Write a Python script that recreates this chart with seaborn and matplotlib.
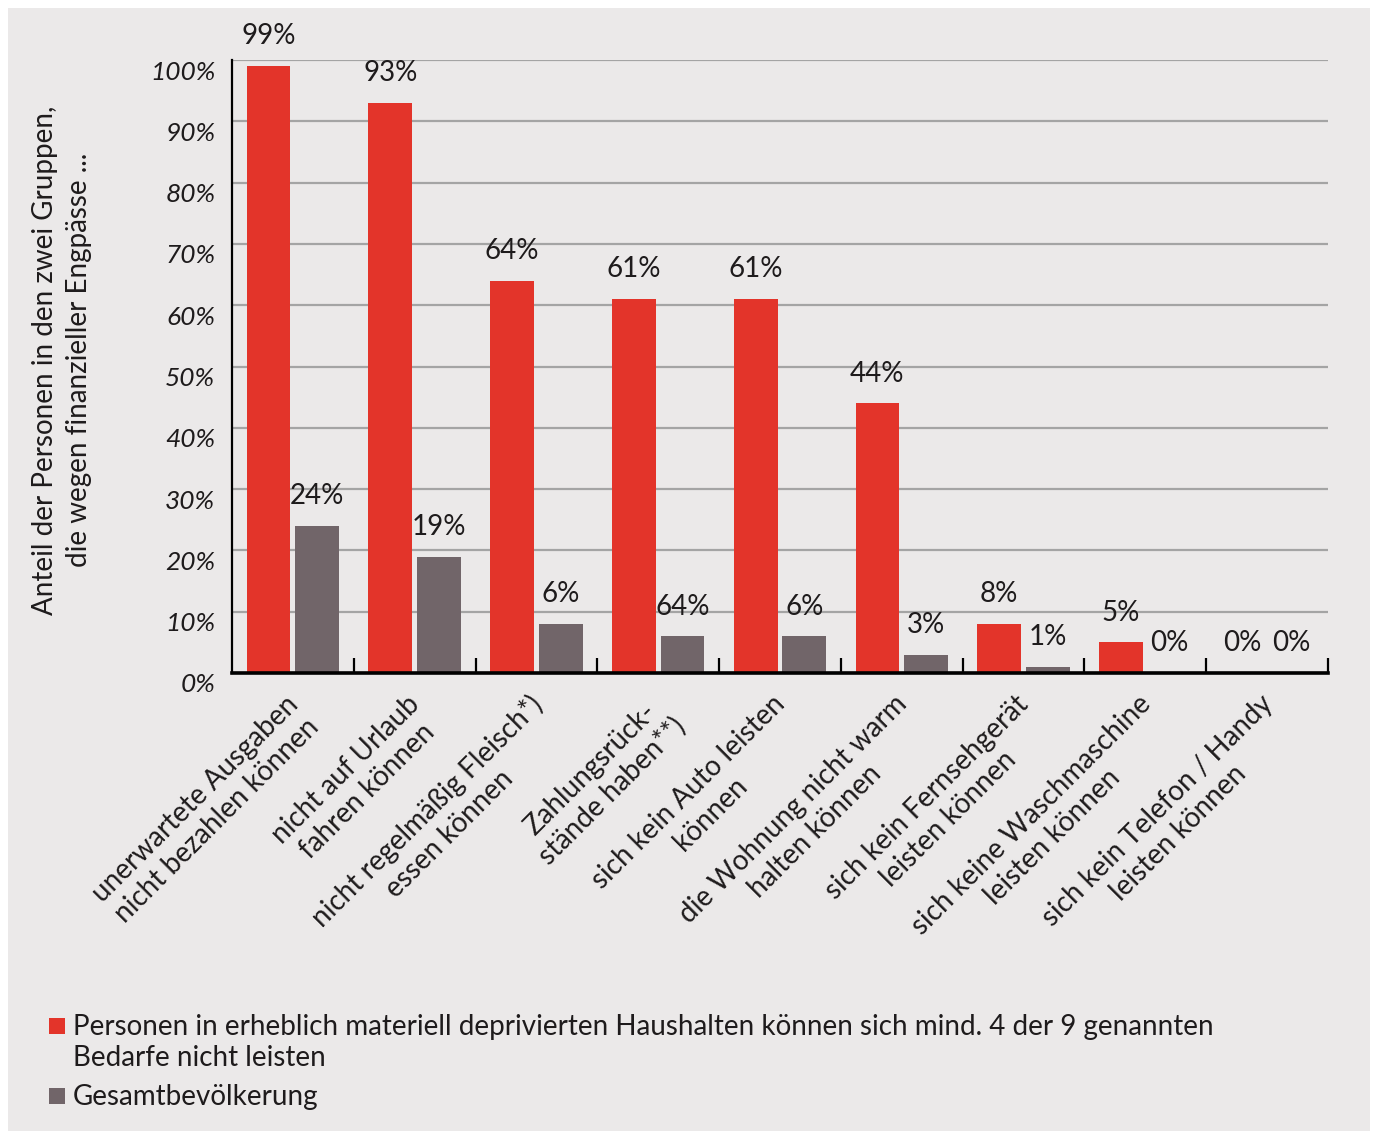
import numpy as np
import pandas as pd
import matplotlib
matplotlib.use("Agg")
import matplotlib.pyplot as plt
import seaborn as sns
from matplotlib.patches import Rectangle
from matplotlib.transforms import ScaledTranslation

# ---------------- data ----------------
categories = [
    "unerwartete Ausgaben\nnicht bezahlen können",
    "nicht auf Urlaub\nfahren können",
    "nicht regelmäßig Fleisch*)\nessen können",
    "Zahlungsrück-\nstände haben**)",
    "sich kein Auto leisten\nkönnen",
    "die Wohnung nicht warm\nhalten können",
    "sich kein Fernsehgerät\nleisten können",
    "sich keine Waschmaschine\nleisten können",
    "sich kein Telefon / Handy\nleisten können",
]
series_names = [
    "Personen in erheblich materiell deprivierten Haushalten können sich mind. 4 der 9 genannten\nBedarfe nicht leisten",
    "Gesamtbevölkerung",
]
deprived = [99, 93, 64, 61, 61, 44, 8, 5, 0]
total = [24, 19, 8, 6, 6, 3, 1, 0, 0]
deprived_labels = ["99%", "93%", "64%", "61%", "61%", "44%", "8%", "5%", "0%"]
total_labels = ["24%", "19%", "6%", "64%", "6%", "3%", "1%", "0%", "0%"]
y_ticks = [0, 10, 20, 30, 40, 50, 60, 70, 80, 90, 100]
y_tick_labels = [f"{v}%" for v in y_ticks]
y_label = "Anteil der Personen in den zwei Gruppen,\ndie wegen finanzieller Engpässe ..."

colors = ["#E3342A", "#716569"]
bg = "#EBE9E9"
txt = "#1E1B1C"

# ---------------- style ----------------
sns.set_style("white")
plt.rcParams["font.family"] = ["Lato", "DejaVu Sans"]
plt.rcParams["text.color"] = txt

W, H = 1375, 1133
fig = plt.figure(figsize=(W / 100, H / 100), dpi=100, facecolor="white")
fig.patches.append(Rectangle((8 / W, 2 / H), (1370 - 8) / W, (1131 - 8) / H,
                             transform=fig.transFigure, facecolor=bg,
                             edgecolor="none", zorder=-10))

ax = fig.add_axes([232 / W, 1 - 673 / H, (1328 - 232) / W, (673 - 60) / H])
ax.set_facecolor("none")

df = pd.DataFrame({
    "Kategorie": categories * 2,
    "Gruppe": [series_names[0]] * len(categories) + [series_names[1]] * len(categories),
    "Anteil": deprived + total,
})
sns.barplot(data=df, x="Kategorie", y="Anteil", hue="Gruppe",
            hue_order=series_names, palette=colors, saturation=1,
            width=0.8, gap=0.1, legend=False, ax=ax, linewidth=0,
            errorbar=None)

ax.set_xlim(-0.5, len(categories) - 0.5)
ax.set_ylim(0, 100)
ax.set_xlabel("")
ax.set_ylabel("")

# grid & spines
ax.yaxis.grid(True, color="#A4A4A4", linewidth=1.6)
ax.xaxis.grid(False)
ax.set_axisbelow(True)
for s in ["top", "right"]:
    ax.spines[s].set_visible(False)
ax.spines["left"].set_color("black")
ax.spines["left"].set_linewidth(1.6)
ax.spines["bottom"].set_color("black")
ax.spines["bottom"].set_linewidth(2.6)
ax.spines["bottom"].set_zorder(5)

# y ticks
ax.set_yticks(y_ticks)
ax.set_yticklabels(y_tick_labels, fontsize=19, fontstyle="italic", color=txt)
ax.tick_params(axis="y", length=0, pad=12)
yoff = ScaledTranslation(0, -10 / 100, fig.dpi_scale_trans)
for lab in ax.get_yticklabels():
    lab.set_transform(lab.get_transform() + yoff)

# x ticks
ax.set_xticks(range(len(categories)))
ax.set_xticklabels(categories, rotation=45, ha="right", va="top",
                   rotation_mode="anchor", fontsize=20, color=txt,
                   multialignment="center", linespacing=1.2)
ax.tick_params(axis="x", which="major", length=0, pad=0)
xoff = ScaledTranslation(-8 / 100, -18 / 100, fig.dpi_scale_trans)
for lab in ax.get_xticklabels():
    lab.set_transform(lab.get_transform() + xoff)
ax.set_xticks(np.arange(0.5, len(categories), 1), minor=True)
ax.tick_params(axis="x", which="minor", direction="in", length=11,
               width=1.6, color="black", bottom=True)

# value labels
for cont, labs in zip(ax.containers, [deprived_labels, total_labels]):
    ax.bar_label(cont, labels=labs, padding=12, fontsize=20, color=txt)

# y label
fig.text(62 / W, 1 - 360 / H, y_label, rotation=90, ha="center", va="center",
         multialignment="center", fontsize=20, color=txt, linespacing=1.35)

# legend (manual)
leg_items = [(1018, series_names[0]), (1088, series_names[1])]
for (ytop, name), col in zip(leg_items, colors):
    fig.patches.append(Rectangle((49 / W, 1 - (ytop + 16) / H), 16 / W, 16 / H,
                                 transform=fig.transFigure, facecolor=col,
                                 edgecolor="none"))
    fig.text(73 / W, 1 - (ytop - 4) / H, name, ha="left", va="top",
             fontsize=20, color=txt, linespacing=1.25)

fig.savefig("out.png", dpi=100, facecolor="white")
